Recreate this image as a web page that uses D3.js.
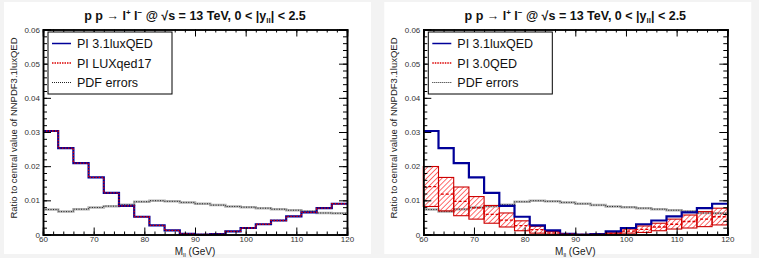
<!DOCTYPE html>
<html>
<head>
<meta charset="utf-8">
<script src="https://cdn.jsdelivr.net/npm/d3@7"></script>
<style>
  body { margin: 0; background: #f3f3f3; }
  svg { display: block; font-family: "Liberation Sans", Arial, sans-serif; }
</style>
</head>
<body>
<div id="chart"></div>
<script>
// bin edges: 20 bins of 3 GeV from 60 to 120
const binEdges = d3.range(60, 121, 3);

// PI with NNPDF3.1luxQED (ratio to central value)
const pi31luxQED = [0.0303, 0.0253, 0.0209, 0.0167, 0.0122, 0.0084, 0.0052, 0.0027, 0.0012, 0.0002,
  0.0000, 0.0001, 0.0009, 0.0019, 0.0030, 0.0041, 0.0053, 0.0065, 0.0077, 0.0090];

// PI with LUXqed17 (overlaps 3.1luxQED)
const piLUXqed17 = [0.0303, 0.0253, 0.0209, 0.0167, 0.0122, 0.0084, 0.0052, 0.0027, 0.0012, 0.0002,
  0.0000, 0.0001, 0.0009, 0.0019, 0.0030, 0.0041, 0.0053, 0.0065, 0.0077, 0.0090];

// PI with NNPDF3.0QED: central, upper and lower edges of the band
const pi30QED = [0.0140, 0.0118, 0.0097, 0.0078, 0.0059, 0.0042, 0.0026, 0.0014, 0.0005, 0.0001,
  0.0000, 0.0000, 0.0003, 0.0010, 0.0015, 0.0022, 0.0030, 0.0038, 0.0045, 0.0052];
const pi30QEDUp = [0.0199, 0.0167, 0.0139, 0.0111, 0.0085, 0.0063, 0.0040, 0.0024, 0.0009, 0.0002,
  0.0000, 0.0000, 0.0005, 0.0016, 0.0025, 0.0033, 0.0045, 0.0057, 0.0067, 0.0077];
const pi30QEDDown = [0.0082, 0.0069, 0.0055, 0.0045, 0.0033, 0.0022, 0.0011, 0.0004, 0.0001, 0.0000,
  0.0000, 0.0000, 0.0001, 0.0004, 0.0006, 0.0011, 0.0016, 0.0019, 0.0023, 0.0028];

// PDF errors of NNPDF3.1luxQED
const pdfErrors = [0.0073, 0.0067, 0.0074, 0.0079, 0.0083, 0.0087, 0.0096, 0.0099, 0.0097, 0.0094,
  0.0090, 0.0086, 0.0082, 0.0080, 0.0077, 0.0074, 0.0071, 0.0068, 0.0063, 0.0062];

const xTicks = [60, 70, 80, 90, 100, 110, 120];
const yTicks = [0, 0.01, 0.02, 0.03, 0.04, 0.05, 0.06];

const width = 759;
const height = 258;

const svg = d3.select("#chart")
  .append("svg")
  .attr("width", width)
  .attr("height", height);

// hatch pattern for the 3.0QED band
const defs = svg.append("defs");
defs.append("pattern")
  .attr("id", "hatch")
  .attr("patternUnits", "userSpaceOnUse")
  .attr("width", 3.6)
  .attr("height", 3.6)
  .attr("patternTransform", "rotate(45)")
  .append("line")
  .attr("x1", 0).attr("y1", 0)
  .attr("x2", 0).attr("y2", 3.6)
  .attr("stroke", "#ff2020")
  .attr("stroke-width", 1.3);

function stepPoints(values) {
  const pts = values.map((v, i) => [binEdges[i], v]);
  pts.push([binEdges[binEdges.length - 1], values[values.length - 1]]);
  return pts;
}

function drawPanel(offsetX, compareName, right) {
  const g = svg.append("g").attr("transform", `translate(${offsetX},0)`);

  // white canvas
  g.append("rect")
    .attr("x", 4).attr("y", 2)
    .attr("width", 367).attr("height", 252)
    .attr("fill", "#fff");

  const plot = { left: 43, right: 347, top: 29.5, bottom: 234.5 };
  const x = d3.scaleLinear().domain([60, 120]).range([plot.left, plot.right]);
  const y = d3.scaleLinear().domain([0, 0.06]).range([plot.bottom, plot.top]);

  const line = d3.line()
    .x(d => x(d[0]))
    .y(d => y(d[1]))
    .curve(d3.curveStepAfter);

  // PDF errors: grey band line with black dots
  g.append("path")
    .attr("d", line(stepPoints(pdfErrors)))
    .attr("fill", "none")
    .attr("stroke", "#b4b4b4")
    .attr("stroke-width", 2.5);
  g.append("path")
    .attr("d", line(stepPoints(pdfErrors)))
    .attr("fill", "none")
    .attr("stroke", "#222")
    .attr("stroke-width", 1)
    .attr("stroke-dasharray", "1,1.5");

  if (right) {
    // hatched band per bin
    g.selectAll(".band")
      .data(pi30QEDUp)
      .enter()
      .append("rect")
      .attr("class", "band")
      .attr("x", (d, i) => x(binEdges[i]))
      .attr("width", (d, i) => x(binEdges[i + 1]) - x(binEdges[i]))
      .attr("y", d => y(d))
      .attr("height", (d, i) => y(pi30QEDDown[i]) - y(d))
      .attr("fill", "url(#hatch)")
      .attr("stroke", "#cc0000")
      .attr("stroke-width", 1.1);
  }

  // PI 3.1luxQED
  g.append("path")
    .attr("d", line(stepPoints(pi31luxQED)))
    .attr("fill", "none")
    .attr("stroke", "#000099")
    .attr("stroke-width", 2.2);

  // comparison curve, red dotted
  g.append("path")
    .attr("d", line(stepPoints(right ? pi30QED : piLUXqed17)))
    .attr("fill", "none")
    .attr("stroke", "#dd0000")
    .attr("stroke-width", 1.3)
    .attr("stroke-dasharray", right ? "3,2" : "1.5,1.5");

  // axes, ticks pointing inward
  const fmtY = d => d === 0 ? "0" : d3.format(".2f")(d);
  const minorX = d3.range(60, 121, 2);
  const minorY = d3.range(0, 0.0601, 0.002);

  g.append("g")
    .attr("transform", `translate(0,${plot.bottom})`)
    .call(d3.axisBottom(x).tickValues(minorX).tickSize(-3).tickFormat(""));
  g.append("g")
    .attr("class", "x-axis")
    .attr("transform", `translate(0,${plot.bottom})`)
    .call(d3.axisBottom(x).tickValues(xTicks).tickSize(-7).tickPadding(2));
  g.append("g")
    .attr("transform", `translate(0,${plot.top})`)
    .call(d3.axisTop(x).tickValues(minorX).tickSize(-3).tickFormat(""));
  g.append("g")
    .attr("transform", `translate(0,${plot.top})`)
    .call(d3.axisTop(x).tickValues(xTicks).tickSize(-7).tickFormat(""));

  g.append("g")
    .attr("transform", `translate(${plot.left},0)`)
    .call(d3.axisLeft(y).tickValues(minorY).tickSize(-4).tickFormat(""));
  g.append("g")
    .attr("class", "y-axis")
    .attr("transform", `translate(${plot.left},0)`)
    .call(d3.axisLeft(y).tickValues(yTicks).tickSize(-8).tickPadding(3).tickFormat(fmtY));
  g.append("g")
    .attr("transform", `translate(${plot.right},0)`)
    .call(d3.axisRight(y).tickValues(minorY).tickSize(-4).tickFormat(""));
  g.append("g")
    .attr("transform", `translate(${plot.right},0)`)
    .call(d3.axisRight(y).tickValues(yTicks).tickSize(-8).tickFormat(""));

  g.selectAll(".domain").attr("stroke", "#000").attr("stroke-width", 1.5);
  g.selectAll(".tick line").attr("stroke", "#000");
  g.selectAll(".tick text")
    .attr("fill", "#333")
    .style("font-family", "Liberation Sans, Arial, sans-serif")
    .style("font-size", "8px");

  // axis titles
  const xt = g.append("text")
    .attr("x", (plot.left + plot.right) / 2)
    .attr("y", 255)
    .attr("text-anchor", "middle")
    .attr("font-size", 10)
    .attr("fill", "#222");
  xt.append("tspan").text("M");
  xt.append("tspan").attr("font-size", 6).attr("dy", 2).text("ll");
  xt.append("tspan").attr("dy", -2).text(" (GeV)");

  g.append("text")
    .attr("transform", `translate(17,${(plot.top + plot.bottom) / 2 - 4}) rotate(-90)`)
    .attr("text-anchor", "middle")
    .attr("font-size", 9.5)
    .attr("fill", "#222")
    .text("Ratio to central value of NNPDF3.1luxQED");

  // title
  const t = g.append("text")
    .attr("x", 195)
    .attr("y", 20)
    .attr("text-anchor", "middle")
    .attr("font-size", 12.5)
    .attr("font-weight", "bold")
    .attr("fill", "#111");
  t.append("tspan").text("p p \u2192 l");
  t.append("tspan").attr("font-size", 8).attr("dy", -5).text("+");
  t.append("tspan").attr("dy", 5).text(" l");
  t.append("tspan").attr("font-size", 8).attr("dy", -5).text("\u2212");
  t.append("tspan").attr("dy", 5).text(" @ \u221As = 13 TeV, 0 < |y");
  t.append("tspan").attr("font-size", 8).attr("dy", 3).text("ll");
  t.append("tspan").attr("dy", -3).text("| < 2.5");

  // legend
  const lg = g.append("g");
  lg.append("rect")
    .attr("x", 48).attr("y", 32)
    .attr("width", 124).attr("height", 62)
    .attr("fill", "#fff")
    .attr("stroke", "#000")
    .attr("stroke-width", 1);
  const entries = [
    { label: "PI 3.1luxQED", color: "#000099", dash: null, w: 1.5 },
    { label: compareName, color: "#dd0000", dash: "1.5,1", w: 1.3 },
    { label: "PDF errors", color: "#222", dash: "1,1", w: 1 }
  ];
  entries.forEach((e, i) => {
    const yy = 43.5 + i * 19.5;
    lg.append("line")
      .attr("x1", 52).attr("x2", 71)
      .attr("y1", yy).attr("y2", yy)
      .attr("stroke", e.color)
      .attr("stroke-width", e.w)
      .attr("stroke-dasharray", e.dash);
    lg.append("text")
      .attr("x", 77).attr("y", yy + 4.5)
      .attr("font-size", 12.5)
      .attr("fill", "#111")
      .text(e.label);
  });
}

drawPanel(0, "PI LUXqed17", false);
drawPanel(380.3, "PI 3.0QED", true);
</script>
</body>
</html>
